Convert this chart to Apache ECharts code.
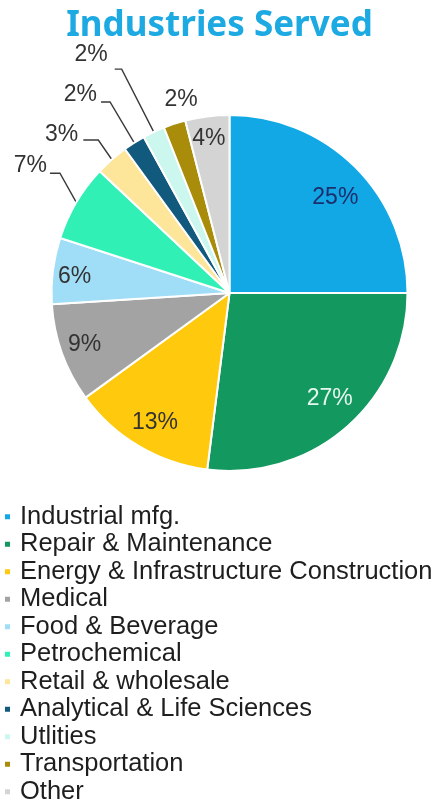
<!DOCTYPE html>
<html><head><meta charset="utf-8">
<script src="https://cdn.jsdelivr.net/npm/echarts@6/dist/echarts.min.js"></script>
<style>html,body{margin:0;padding:0;background:#fff}#c{width:439px;height:804px}</style>
</head><body><div id="c"></div>
<script>
const titleText = 'Industries Served';
const categories = ['Industrial mfg.', 'Repair & Maintenance', 'Energy & Infrastructure Construction', 'Medical', 'Food & Beverage', 'Petrochemical', 'Retail & wholesale', 'Analytical & Life Sciences', 'Utlities', 'Transportation', 'Other'];
const shares = [25, 27, 13, 9, 6, 7, 3, 2, 2, 2, 4];
const colors = ['#12A8E6', '#13985F', '#FFC90E', '#A3A3A3', '#A0DDF6', '#30F0B5', '#FDE59A', '#115A7E', '#CCF7EE', '#A88C0A', '#D4D4D4'];
const labelColors = ['#1C2E6B', '#E6F7F0', '#333333', '#333333', '#333333', '#333333', '#333333', '#333333', '#333333', '#333333', '#333333'];
// label placement (style): r = radius ratio, da = angle tweak; lead = [length, direction deg, length2]
const labelStyles = [
  {r: 0.80, da: 3},
  {r: 0.82, da: -2},
  {r: 0.84, da: -0.7},
  {r: 0.865, da: 0},
  {r: 0.875, da: -1},
  {lead: [33.4, 29.3, 10], gap: 3, ty: -8},
  {lead: [23.7, 34.7, 15], gap: 5, ty: -5},
  {lead: [47.3, 30.6, 9], gap: 4, ty: -7},
  {lead: [70.5, 27, 7], gap: 7, ty: -14},
  {r: 1.118, da: 3.9},
  {r: 0.876, da: -0.4}
];
const CX = 229.5, CY = 293, R = 178;

const total = shares.reduce((a, b) => a + b, 0);
const midAngle = [];
let acc = 0;
shares.forEach(v => { midAngle.push(360 * (acc + v / 2) / total); acc += v; });

const data = categories.map((name, i) => ({
  name: name,
  value: shares[i],
  itemStyle: {color: colors[i]},
  label: {color: labelColors[i]},
  labelLine: {show: !!labelStyles[i].lead}
}));

const chart = echarts.init(document.getElementById('c'));
chart.setOption({
  animation: false,
  title: {
    text: titleText, left: 'center', top: 9, padding: [0, 0, 0, 6],
    textStyle: {fontFamily: 'Noto Sans', fontWeight: 'bold', fontSize: 35, color: '#1DA9E1'}
  },
  legend: {
    orient: 'vertical', left: 3, top: 503, height: 320, padding: 0, icon: 'rect', itemWidth: 7, itemHeight: 7, itemGap: 0,
    selectedMode: false,
    textStyle: {fontFamily: 'Liberation Sans, Arial, sans-serif', fontSize: 25.5, color: '#1e1e1e', lineHeight: 27.5, padding: [0, 0, 0, 4]},
    data: categories
  },
  series: [{
    type: 'pie',
    center: [CX, CY],
    radius: R,
    startAngle: 90,
    clockwise: true,
    avoidLabelOverlap: false,
    data: data,
    itemStyle: {borderColor: '#fff', borderWidth: 2},
    label: {
      show: true, position: 'outside', formatter: '{c}%',
      fontFamily: 'Liberation Sans, Arial, sans-serif', fontSize: 23
    },
    labelLine: {show: true, length: 10, length2: 10, lineStyle: {color: '#3a3a3a', width: 1.4}},
    labelLayout: function (p) {
      const i = p.dataIndex, s = labelStyles[i];
      const th = midAngle[i] * Math.PI / 180;
      if (s.lead) {
        const L = s.lead[0], ph = s.lead[1] * Math.PI / 180, L2 = s.lead[2];
        const x0 = CX + R * Math.sin(th), y0 = CY - R * Math.cos(th);
        const x1 = x0 - L * Math.sin(ph), y1 = y0 - L * Math.cos(ph);
        const x2 = x1 - L2;
        return {x: x2 - s.gap, y: y1 + s.ty, align: 'right', verticalAlign: 'middle',
                labelLinePoints: [[x0, y0], [x1, y1], [x2, y1]]};
      }
      const a = th + s.da * Math.PI / 180;
      return {x: CX + s.r * R * Math.sin(a), y: CY - s.r * R * Math.cos(a), align: 'center', verticalAlign: 'middle'};
    }
  }]
});
</script></body></html>
